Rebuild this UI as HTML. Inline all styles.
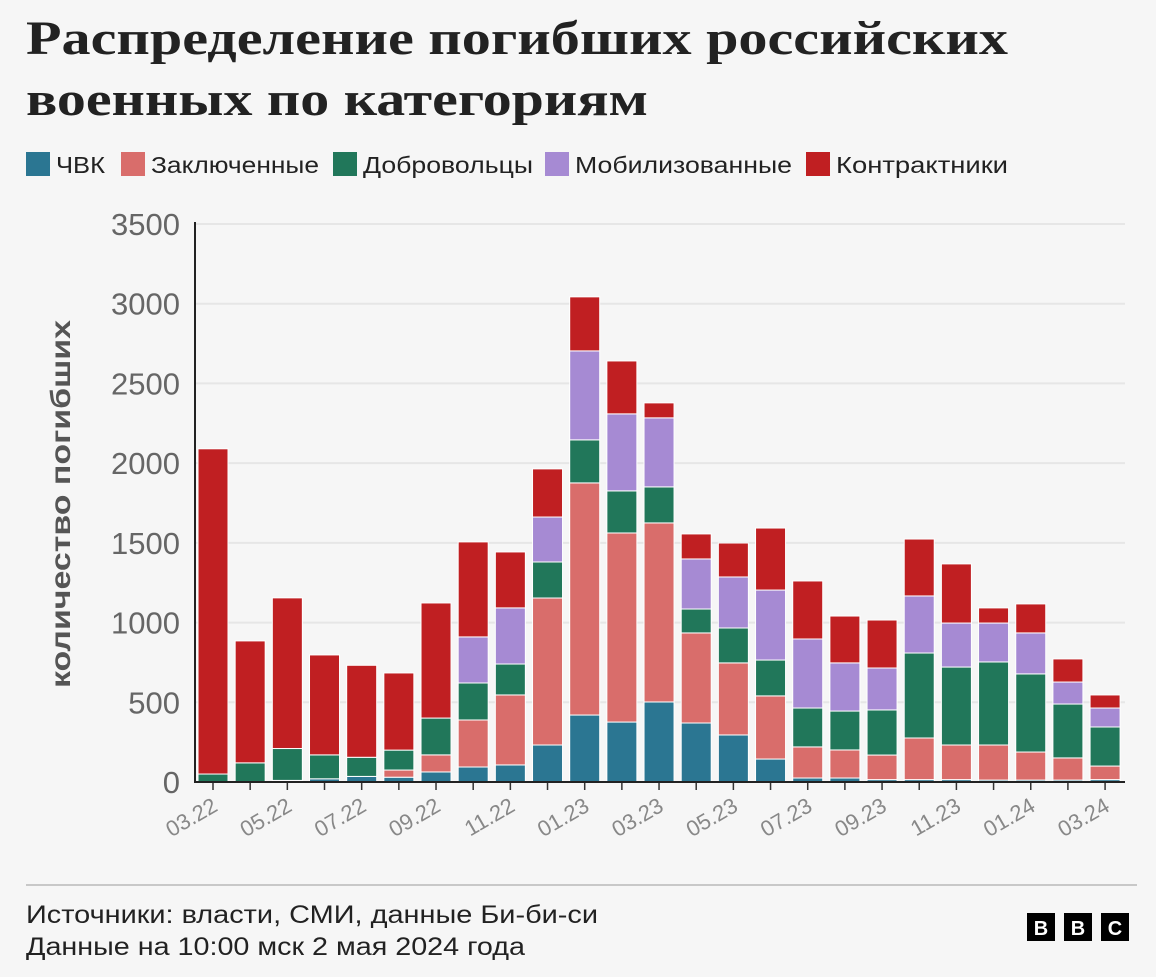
<!DOCTYPE html>
<html><head><meta charset="utf-8"><style>
body{margin:0;background:#f6f6f6;width:1156px;height:972px;overflow:hidden;font-family:"Liberation Sans",sans-serif}
</style></head><body>
<svg id="c" width="1156" height="972" xmlns="http://www.w3.org/2000/svg">
<text x="26" y="54" font-family="Liberation Serif,serif" font-weight="bold" font-size="48" fill="#222" textLength="982" lengthAdjust="spacingAndGlyphs">Распределение погибших российских</text>
<text x="26" y="115" font-family="Liberation Serif,serif" font-weight="bold" font-size="48" fill="#222" textLength="622" lengthAdjust="spacingAndGlyphs">военных по категориям</text>
<g id="legend"></g>
<g id="grid"></g><g id="bars"></g><g id="axes"></g>
<text transform="translate(70,504) rotate(-90)" text-anchor="middle" font-size="28" font-weight="bold" fill="#555" textLength="368" lengthAdjust="spacingAndGlyphs">количество погибших</text>
<line x1="26" y1="885" x2="1137" y2="885" stroke="#999" stroke-width="1"/>
<text x="26" y="923" font-size="25" fill="#222" textLength="572" lengthAdjust="spacingAndGlyphs">Источники: власти, СМИ, данные Би-би-си</text>
<text x="26" y="955" font-size="25" fill="#222" textLength="499" lengthAdjust="spacingAndGlyphs">Данные на 10:00 мск 2 мая 2024 года</text>
<g>
<rect x="1027" y="913" width="28" height="28" fill="#000"/><text x="1041" y="935" text-anchor="middle" font-weight="bold" font-size="20" fill="#fff">B</text>
<rect x="1064" y="913" width="28" height="28" fill="#000"/><text x="1078" y="935" text-anchor="middle" font-weight="bold" font-size="20" fill="#fff">B</text>
<rect x="1101" y="913" width="28" height="28" fill="#000"/><text x="1115" y="935" text-anchor="middle" font-weight="bold" font-size="20" fill="#fff">C</text>
</g>
</svg>
<script>
const months=["03.22","04.22","05.22","06.22","07.22","08.22","09.22","10.22","11.22","12.22","01.23","02.23","03.23","04.23","05.23","06.23","07.23","08.23","09.23","10.23","11.23","12.23","01.24","02.24","03.24"];
const chvk=[0,0,10,20,35,30,63,94,107,232,420,376,502,370,295,144,25,25,15,15,15,12,12,12,15];
const zakl=[0,0,0,0,0,45,107,295,439,922,1456,1186,1123,565,452,396,195,176,154,261,217,220,176,139,85];
const dobr=[50,120,200,150,120,125,231,232,194,226,270,264,226,150,219,225,244,244,283,533,489,521,490,338,245];
const mob=[0,0,0,0,0,0,0,289,352,282,558,483,433,314,320,439,433,302,263,358,276,244,257,138,119];
const kontr=[2040,765,945,627,577,484,722,596,351,302,339,332,94,157,213,389,364,294,301,357,371,95,182,145,82];
const yTicks=[0,500,1000,1500,2000,2500,3000,3500];
const seriesNames=["ЧВК","Заключенные","Добровольцы","Мобилизованные","Контрактники"];
const colors=["#2b7692","#d96d6b","#21775a","#a68ad3","#c01f22"];
const series=[chvk,zakl,dobr,mob,kontr];
const NS="http://www.w3.org/2000/svg";
const y0=782,ppu=(782-224)/3500;
const yS=v=>y0-v*ppu;
const xS=i=>213+i*37.17;
function mk(t,a,p){const e=document.createElementNS(NS,t);for(const k in a)e.setAttribute(k,a[k]);p.appendChild(e);return e;}
const leg=document.getElementById('legend');
const legX=[26,121,333,545,806];
const legW=[49,168,170,217,172];
seriesNames.forEach((n,i)=>{
 const r=mk('rect',{x:legX[i],y:152,width:24,height:24,fill:colors[i]},leg);
 
 
 const t=mk('text',{x:legX[i]+30,y:173,'font-size':23,fill:'#222',textLength:legW[i],lengthAdjust:'spacingAndGlyphs'},leg);t.textContent=n;
 
 
});
const grid=document.getElementById('grid'),axes=document.getElementById('axes'),bars=document.getElementById('bars');
yTicks.forEach(v=>{
 if(v>0){const g=mk('line',{x1:195,x2:1125,y1:yS(v),y2:yS(v),stroke:'#e6e6e6','stroke-width':2},grid);
 
 }
 const t=mk('text',{x:180,y:yS(v)+11,'text-anchor':'end','font-size':31,fill:'#666'},axes);t.textContent=v;
 
 
});
months.forEach((m,i)=>{
 let acc=0;
 series.forEach((s,k)=>{
  const v=s[i];if(v<=0)return;
  const r=mk('rect',{x:xS(i)-15,y:yS(acc+v),width:30,height:v*ppu,fill:colors[k],stroke:'#fff','stroke-width':1},bars);
  
  
  acc+=v;
 });
 const tk=mk('line',{x1:xS(i),x2:xS(i),y1:782,y2:790,stroke:'#333','stroke-width':1.5},axes);
 
 
 if(i%2===0){
  const t=mk('text',{transform:`translate(${xS(i)+6},${810}) rotate(-30)`,'text-anchor':'end','font-size':22,fill:'#888'},axes);t.textContent=m;
  
  
 }
});
const ya=mk('line',{x1:195,x2:195,y1:222,y2:783,stroke:'#222','stroke-width':2},axes);


const xa=mk('line',{x1:194,x2:1125,y1:782,y2:782,stroke:'#222','stroke-width':2},axes);


</script>
</body></html>
